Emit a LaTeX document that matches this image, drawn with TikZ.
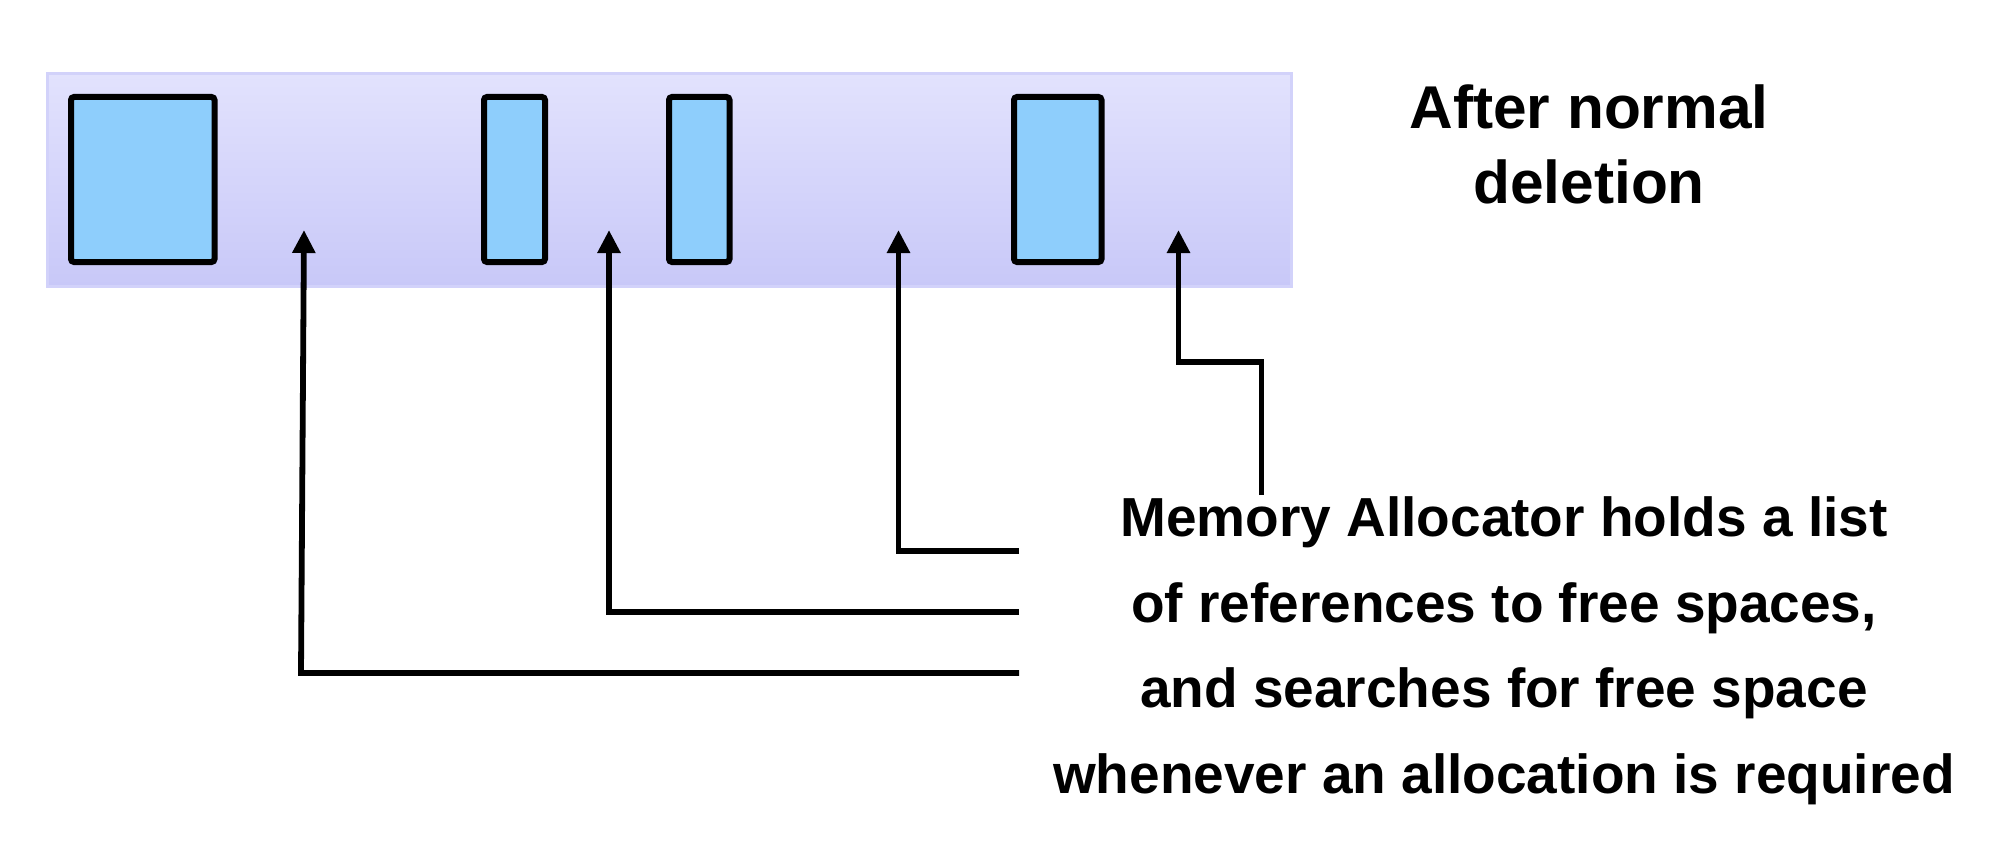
\documentclass[tikz,border=0pt]{standalone}
\usepackage{fontspec}
\setmainfont{Liberation Sans}
\usetikzlibrary{arrows.meta}
\definecolor{bandtop}{RGB}{226,226,253}
\definecolor{bandbot}{RGB}{200,200,248}
\definecolor{bandedge}{RGB}{210,210,250}
\definecolor{blockfill}{RGB}{142,206,252}
\begin{document}
\begin{tikzpicture}[x=0.5pt,y=-0.5pt,
  block/.style={draw=black, line width=3pt, fill=blockfill, rounded corners=1.5pt, inner sep=0pt},
  conn/.style={line width=2.9pt, -{Triangle[length=11.5pt,width=11pt]}},
  label/.style={align=center, inner sep=0pt},
]
\useasboundingbox (0,0) rectangle (2000,840);
% memory band
\shade[top color=bandtop, bottom color=bandbot] (47,74) rectangle (1291,286);
\draw[bandedge, line width=1.5pt] (47,74) rectangle (1291,286);
% allocated blocks
\node[block, minimum width=71.75pt, minimum height=82.5pt] (b1) at (142.75,179.5) {};
\node[block, minimum width=30.5pt, minimum height=82.5pt] (b2) at (514.5,179.5) {};
\node[block, minimum width=30.25pt, minimum height=82.5pt] (b3) at (699.25,179.5) {};
\node[block, minimum width=43.75pt, minimum height=82.5pt] (b4) at (1057.75,179.5) {};
% free spaces (arrow targets)
\coordinate (f1) at (304,230);
\coordinate (f2) at (609,230);
\coordinate (f3) at (898.5,230);
\coordinate (f4) at (1178.5,230);
% texts
\node[label, font=\fontsize{30.2}{37.5}\selectfont\bfseries] (title) at (1589,144) {After normal\\deletion};
\node[label, font=\fontsize{27.5}{42.75}\selectfont\bfseries] (txt) at (1504,651) {Memory Allocator holds a list\\of references to free spaces,\\and searches for free space\\whenever an allocation is required};
% connector ends
\coordinate (e1) at (1019,673);
\coordinate (e2) at (1019,612);
\coordinate (e3) at (1019,551);
\coordinate (e4) at (1261.5,495);
\coordinate (c1) at (301,673);
\draw[conn] (e1) -- (c1) -- (f1);
\draw[conn] (e2) -| (f2);
\draw[conn] (e3) -| (f3);
\draw[conn] (e4) -- ++(0,-133) -| (f4);
\end{tikzpicture}
\end{document}
